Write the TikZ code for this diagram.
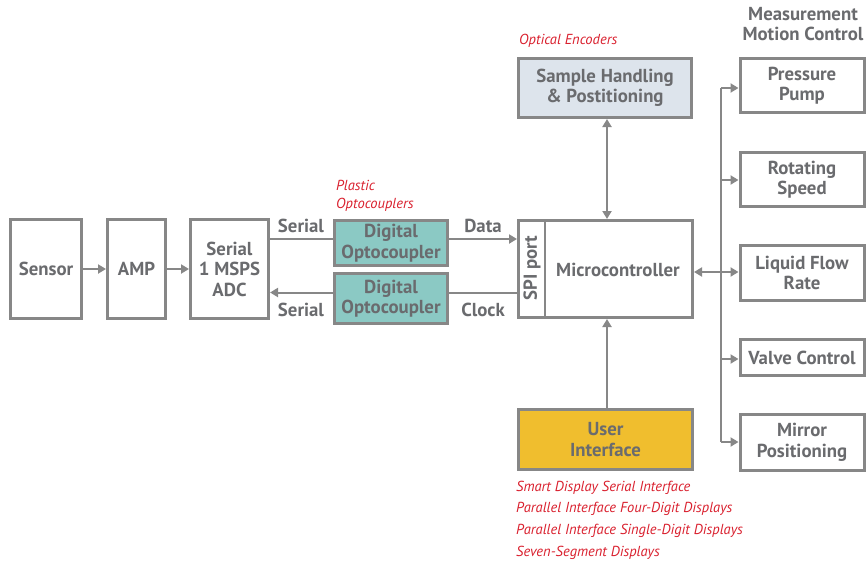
\documentclass[tikz,border=0pt]{standalone}
\usepackage{fontspec}
\setmainfont{PT Sans}
\usetikzlibrary{arrows.meta,calc}
\definecolor{linegray}{HTML}{878787}
\definecolor{txtgray}{HTML}{6A6B6E}
\definecolor{notered}{HTML}{D9202E}
\definecolor{tealfill}{HTML}{8BC9C4}
\definecolor{bluefill}{HTML}{DDE4EC}
\definecolor{goldfill}{HTML}{F0BE2E}
\tikzset{
  blk/.style={draw=linegray, line width=3pt, fill=white, text=txtgray,
    font=\fontsize{18.8}{20.5}\selectfont\bfseries, align=center, inner sep=0pt},
  note/.style={text=notered, font=\fontsize{14.5}{16}\selectfont\itshape, inner sep=0pt},
  lbl/.style={text=txtgray, font=\fontsize{18.8}{20.5}\selectfont\bfseries, inner sep=0pt},
  conn/.style={draw=linegray, line width=2pt},
  tip/.style={-{Triangle[length=8pt,width=9pt]}},
  tips/.style={{Triangle[length=8pt,width=9pt]}-{Triangle[length=8pt,width=9pt]}},
}
\begin{document}
\begin{tikzpicture}[x=1pt,y=-1pt]
\useasboundingbox (0,0) rectangle (866,560);

% signal chain
\node[blk, minimum width=71, minimum height=99] (sensor) at (46,269) {Sensor};
\node[blk, minimum width=58, minimum height=99] (amp) at (136.5,269) {AMP};
\node[blk, minimum width=78, minimum height=99] (adc) at (229.5,269) {Serial\\1 MSPS\\ADC};
\node[blk, fill=tealfill, minimum width=113, minimum height=45] (opa) at (391,243) {Digital\\Optocoupler};
\node[blk, fill=tealfill, minimum width=113, minimum height=50] (opb) at (391,298.5) {Digital\\Optocoupler};

% controller with SPI port strip
\node[blk, minimum width=174, minimum height=97] (mcu) at (605.5,269) {};
\coordinate (spitop) at (545,219.5);
\coordinate (spibot) at (545,318.5);
\draw[draw=linegray, line width=2pt] (spitop) -- (spibot);
\node[lbl, anchor=west] (mcutxt) at (556,270) {Microcontroller};
\node[lbl, rotate=90] (spitxt) at (532,268) {SPI port};

\node[blk, fill=bluefill, minimum width=173, minimum height=59] (sample) at (605,88) {Sample Handling\\\&~Postitioning};
\node[blk, fill=goldfill, minimum width=174, minimum height=60] (ui) at (605.5,439.5) {User\\Interface};

% motion control outputs
\node[blk, minimum width=124, minimum height=54] (pump) at (802,85.5) {Pressure\\Pump};
\node[blk, minimum width=124, minimum height=54] (rot) at (802,179.5) {Rotating\\Speed};
\node[blk, minimum width=124, minimum height=55] (flow) at (802,273) {Liquid Flow\\Rate};
\node[blk, minimum width=124, minimum height=36] (valve) at (802,357.5) {Valve Control};
\node[blk, minimum width=124, minimum height=56] (mirror) at (802,442.5) {Mirror\\Positioning};

% headings and notes
\node[lbl, align=center] (head) at (803,24) {Measurement\\Motion Control};
\node[note, anchor=west] (enc) at (519,41) {Optical Encoders};
\node[note, anchor=west, align=left] (plastic) at (336,196) {Plastic\\[2pt]Optocouplers};
\node[note, anchor=north west, align=left] (disp) at (516,480.5)
  {Smart Display Serial Interface\\[5.7pt]Parallel Interface Four-Digit Displays\\[5.7pt]Parallel Interface Single-Digit Displays\\[5.7pt]Seven-Segment Displays};

% link labels
\node[lbl] (ser1) at (301,226) {Serial};
\node[lbl] (ser2) at (301,310) {Serial};
\node[lbl] (dat) at (483,226) {Data};
\node[lbl] (clk) at (483,310) {Clock};

% connectors along the signal chain
\draw[conn,tip] (sensor) -- (amp);
\draw[conn,tip] (amp) -- (adc);
\draw[conn] (adc.east |- 0,239) -- ([yshift=4pt]opa.west);
\draw[conn,tip] ([yshift=4pt]opa.east) -- (mcu.west |- 0,239);
\draw[conn] (mcu.west |- 0,292.5) -- ([yshift=6pt]opb.east);
\draw[conn,tip] ([yshift=6pt]opb.west) -- (adc.east |- 0,292.5);

% controller links
\draw[conn,tips] (sample.south -| 607,0) -- (mcu.north -| 607,0);
\draw[conn,tip] (ui.north -| 607,0) -- (mcu.south -| 607,0);

% distribution bus to the motion control blocks
\coordinate (busT) at (721,88);
\coordinate (busB) at (721,442);
\draw[conn] (busT) -- (busB);
\draw[conn,tip] (busT) -- (pump.west |- busT);
\draw[conn,tip] (721,180) -- (rot.west |- 0,180);
\draw[conn,tips] (mcu.east |- 0,272) -- (flow.west |- 0,272);
\draw[conn,tip] (721,359) -- (valve.west |- 0,359);
\draw[conn,tip] (busB) -- (mirror.west |- busB);
\end{tikzpicture}
\end{document}
